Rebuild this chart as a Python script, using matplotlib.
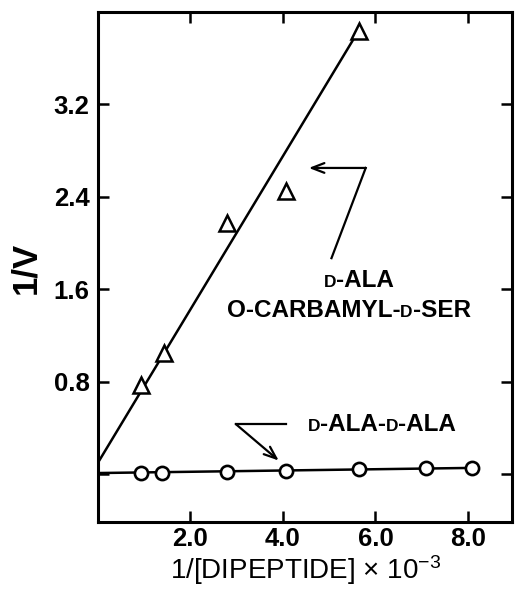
import matplotlib
matplotlib.use('Agg')
import matplotlib.pyplot as plt
from matplotlib.offsetbox import TextArea, HPacker, AnnotationBbox

plt.rcParams['font.family'] = ['Liberation Sans', 'DejaVu Sans']
plt.rcParams['mathtext.default'] = 'regular'

#%% DATA
# D-Ala / O-carbamyl-D-Ser (triangles)
x_tri = [0.94, 1.44, 2.80, 4.06, 5.64]
y_tri = [0.775, 1.05, 2.17, 2.45, 3.83]
# D-Ala-D-Ala (circles)
x_circ = [0.94, 1.39, 2.80, 4.06, 5.64, 7.09, 8.09]
y_circ = [0.015, 0.015, 0.025, 0.03, 0.045, 0.055, 0.055]
# fitted lines (intercept, slope, x-end)
fit_tri = (0.10, 0.663, 5.60)
fit_circ = (0.012, 0.0055, 8.09)

xticks = [2.0, 4.0, 6.0, 8.0]
yticks = [0.0, 0.8, 1.6, 2.4, 3.2]
ytick_labels = ['', '0.8', '1.6', '2.4', '3.2']

#%% PLOT
fig = plt.figure(figsize=(5.15, 5.91), dpi=100)
ax = fig.add_axes([0.190, 0.117, 0.804, 0.863])
ax.set_xlim(0, 8.95)
ax.set_ylim(-0.41, 4.0)

for side in ax.spines.values():
    side.set_linewidth(2.2)

# fit lines
b, m, xe = fit_tri
ax.plot([0, xe], [b, b + m * xe], color='k', lw=1.8, zorder=2)
b, m, xe = fit_circ
ax.plot([0, xe], [b, b + m * xe], color='k', lw=1.8, zorder=2)

ax.plot(x_tri, y_tri, ls='none', marker='^', ms=11, mfc='white',
        mec='k', mew=1.8, zorder=3)
ax.plot(x_circ, y_circ, ls='none', marker='o', ms=9.5, mfc='white',
        mec='k', mew=1.9, zorder=3)

ax.set_xticks(xticks)
ax.set_xticklabels([f'{v:.1f}' for v in xticks])
ax.set_yticks(yticks)
ax.set_yticklabels(ytick_labels)
ax.tick_params(direction='in', length=8, width=1.8, top=True, right=True,
               labelsize=18.5)
ax.tick_params(axis='x', pad=4)
ax.tick_params(axis='y', pad=6)
for lab in ax.get_xticklabels() + ax.get_yticklabels():
    lab.set_fontweight('bold')

### arrows
arrow_kw = dict(arrowstyle='->,head_length=0.9,head_width=0.35', lw=1.6, color='k',
                shrinkA=0, shrinkB=0)
# upper arrow: from label up to a corner, then left
ax.plot([5.05, 5.79], [1.87, 2.65], color='k', lw=1.6)
ax.annotate('', xy=(4.56, 2.65), xytext=(5.79, 2.65), arrowprops=arrow_kw)
# lower arrow: from label left, then down-right to the circles
ax.plot([4.06, 2.98], [0.436, 0.436], color='k', lw=1.6)
ax.annotate('', xy=(3.91, 0.12), xytext=(2.98, 0.436), arrowprops=arrow_kw)

### labels with small-cap "D"
big, small = 17.5, 12.5

def sc_label(parts, xy):
    kids = [TextArea(t, textprops=dict(size=(small if sc else big), weight='bold'))
            for t, sc in parts]
    box = HPacker(children=kids, align='baseline', pad=0, sep=0)
    ab = AnnotationBbox(box, xy, xycoords='data', frameon=False,
                        box_alignment=(0.5, 0.5), pad=0)
    ax.add_artist(ab)

sc_label([('D', True), ('-ALA', False)], (5.64, 1.68))
sc_label([('O-CARBAMYL-', False), ('D', True), ('-SER', False)], (5.42, 1.42))
sc_label([('D', True), ('-ALA-', False), ('D', True), ('-ALA', False)], (6.14, 0.436))

fig.text(26 / 515, 1 - 268 / 591, '1/V', rotation=90, ha='center', va='center',
         fontsize=25, fontweight='bold')
fig.text(306 / 515, 1 - 570 / 591, r'1/[DIPEPTIDE] $\times$ 10$^{-3}$',
         ha='center', va='center', fontsize=20)

fig.savefig('out.png', dpi=100)
